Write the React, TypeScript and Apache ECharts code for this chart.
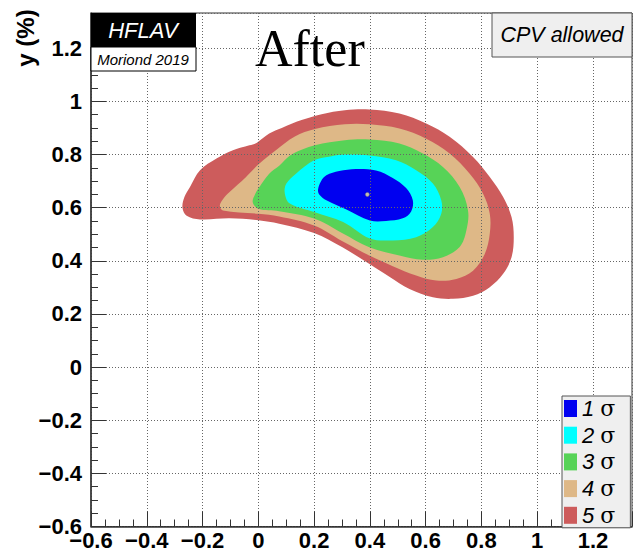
import { useEffect, useRef } from "react";
import * as echarts from "echarts";

// Confidence-level contours in the (x, y) charm mixing plane, in percent.
const contour5: number[][] = [
  [-0.272, 0.6], [-0.265, 0.64], [-0.245, 0.678], [-0.209, 0.741], [-0.15, 0.785],
  [-0.091, 0.816], [-0.032, 0.835], [-0.005, 0.845], [0.039, 0.879], [0.084, 0.9],
  [0.155, 0.93], [0.227, 0.952], [0.31, 0.967], [0.398, 0.97], [0.506, 0.955],
  [0.602, 0.917], [0.686, 0.867], [0.77, 0.791], [0.83, 0.716], [0.878, 0.64],
  [0.908, 0.565], [0.916, 0.489], [0.908, 0.414], [0.878, 0.351], [0.83, 0.301],
  [0.77, 0.269], [0.698, 0.257], [0.626, 0.263], [0.542, 0.294], [0.47, 0.34],
  [0.4, 0.387], [0.3, 0.452], [0.2, 0.505], [0.075, 0.54], [0.0, 0.553],
  [-0.103, 0.56], [-0.209, 0.556], [-0.257, 0.57],
];
const contour4: number[][] = [
  [-0.138, 0.609], [-0.125, 0.635], [-0.103, 0.659], [-0.044, 0.716], [0.004, 0.766],
  [0.063, 0.816], [0.131, 0.868], [0.203, 0.896], [0.31, 0.914], [0.398, 0.914],
  [0.506, 0.898], [0.602, 0.86], [0.686, 0.804], [0.758, 0.728], [0.806, 0.653],
  [0.83, 0.577], [0.83, 0.502], [0.812, 0.426], [0.77, 0.363], [0.71, 0.332],
  [0.638, 0.326], [0.566, 0.345], [0.482, 0.38], [0.4, 0.419], [0.3, 0.475],
  [0.2, 0.533], [0.075, 0.567], [0.0, 0.577], [-0.127, 0.59],
];
const contour3: number[][] = [
  [-0.02, 0.621], [-0.012, 0.65], [0.004, 0.678], [0.039, 0.728], [0.075, 0.758],
  [0.119, 0.8], [0.203, 0.835], [0.31, 0.854], [0.398, 0.857], [0.506, 0.842],
  [0.59, 0.804], [0.662, 0.753], [0.722, 0.678], [0.752, 0.59], [0.746, 0.514],
  [0.722, 0.452], [0.662, 0.414], [0.59, 0.404], [0.506, 0.42], [0.4, 0.45],
  [0.3, 0.505], [0.2, 0.559], [0.075, 0.587], [0.0, 0.596],
];
const contour2: number[][] = [
  [0.095, 0.654], [0.1, 0.69], [0.137, 0.73], [0.2, 0.779], [0.263, 0.794],
  [0.31, 0.8], [0.398, 0.797], [0.494, 0.779], [0.566, 0.741], [0.626, 0.691],
  [0.656, 0.628], [0.656, 0.577], [0.626, 0.527], [0.566, 0.489], [0.482, 0.477],
  [0.4, 0.484], [0.304, 0.546], [0.2, 0.584], [0.113, 0.616],
];
const contour1: number[][] = [
  [0.214, 0.667], [0.225, 0.7], [0.244, 0.722], [0.29, 0.738], [0.35, 0.746],
  [0.422, 0.74], [0.482, 0.712], [0.53, 0.674], [0.554, 0.628], [0.548, 0.586],
  [0.518, 0.56], [0.458, 0.55], [0.4, 0.552], [0.316, 0.593], [0.244, 0.628],
  [0.22, 0.648],
];
const bestFit: number[][] = [[0.391, 0.65]];

const sigmaNames = ["1 σ", "2 σ", "3 σ", "4 σ", "5 σ"];
const sigmaContours = [contour1, contour2, contour3, contour4, contour5];
const sigmaColors = ["#0000f0", "#00ffff", "#57d357", "#deb887", "#cd5c5c"];

const xRange = [-0.6, 1.34];
const yRange = [-0.6, 1.333];
const tickStep = 0.2;

const FONT = '"Liberation Sans", Arial, Helvetica, sans-serif';

function tickLabel(v: number): string {
  const k = Math.round(v / tickStep);
  if (Math.abs(v - k * tickStep) > 1e-6) return "";
  const t = +(k * tickStep).toFixed(1);
  if (t === 0) return "0";
  return t < 0 ? "\u2212" + String(-t) : String(t);
}

function contourSeries(i: number) {
  const pts = sigmaContours[i];
  return {
    type: "custom",
    name: sigmaNames[i],
    coordinateSystem: "cartesian2d",
    itemStyle: { color: sigmaColors[i] },
    data: [[pts[0][0], pts[0][1]]],
    z: 2,
    silent: true,
    renderItem: (_params: any, api: any) => ({
      type: "polygon",
      shape: { points: pts.map((p) => api.coord(p)), smooth: 0.35 },
      style: { fill: sigmaColors[i], stroke: null },
    }),
  };
}

function axisCommon(range: number[], labelMargin: number) {
  return {
    type: "value",
    min: range[0],
    max: range[1],
    interval: tickStep,
    z: 5,
    axisLine: { show: true, onZero: false, lineStyle: { color: "#333", width: 1.5 } },
    axisTick: { show: true, inside: true, length: 15, lineStyle: { color: "#333", width: 1 } },
    minorTick: { show: true, splitNumber: 4, length: 7, lineStyle: { color: "#333", width: 1 } },
    splitLine: { show: true, lineStyle: { color: "#666", width: 1, type: [1, 2] } },
    axisLabel: {
      formatter: tickLabel,
      margin: labelMargin,
      color: "#000",
      fontFamily: FONT,
      fontWeight: "bold",
      fontSize: 22,
    },
  };
}

export default function App() {
  const ref = useRef<HTMLDivElement>(null);

  useEffect(() => {
    if (!ref.current) return;
    const chart = echarts.init(ref.current, null, { renderer: "svg" });

    // draw outermost band first so inner bands sit on top
    const series: any[] = [4, 3, 2, 1, 0].map((i) => contourSeries(i));
    series.push({
      type: "scatter",
      name: "best fit",
      data: bestFit,
      symbolSize: 4,
      z: 3,
      silent: true,
      itemStyle: { color: "#f3eea0", borderColor: "#777", borderWidth: 0.6 },
    });

    chart.setOption({
      animation: false,
      textStyle: { fontFamily: FONT },
      grid: {
        left: 91,
        top: 13,
        width: 541,
        height: 513.5,
        show: true,
        borderColor: "#333",
        borderWidth: 1,
        backgroundColor: "transparent",
      },
      xAxis: axisCommon(xRange, 3),
      yAxis: axisCommon(yRange, 9),
      legend: {
        data: sigmaNames,
        orient: "vertical",
        left: 562,
        top: 396,
        z: 20,
        icon: "rect",
        itemWidth: 13,
        itemHeight: 17,
        itemGap: 4.7,
        itemTextGap: 9,
        padding: [1.5, 15, 1.5, 2],
        backgroundColor: "#efefef",
        borderColor: "#555",
        borderWidth: 1,
        borderRadius: 0,
        selectedMode: false,
        formatter: (name: string) => {
          const [n, s] = name.split(" ");
          return `{n|${n}} {s|${s}}`;
        },
        textStyle: {
          color: "#000",
          fontSize: 22,
          rich: {
            n: { fontFamily: FONT, fontStyle: "italic", fontSize: 22, color: "#000" },
            s: {
              fontFamily: '"DejaVu Serif", "Liberation Serif", serif',
              fontSize: 22,
              color: "#000",
            },
          },
        },
      },
      graphic: [
        {
          type: "text",
          x: 25,
          y: 38,
          z: 20,
          rotation: Math.PI / 2,
          style: {
            text: "y (%)",
            font: `bold 24px ${FONT}`,
            fill: "#000",
            align: "center",
            verticalAlign: "middle",
          },
        },
        {
          type: "rect",
          z: 20,
          shape: { x: 91, y: 13, width: 105, height: 34 },
          style: { fill: "#000" },
        },
        {
          type: "text",
          x: 143,
          y: 30,
          z: 21,
          style: {
            text: "HFLAV",
            font: `italic 22px ${FONT}`,
            fill: "#fff",
            align: "center",
            verticalAlign: "middle",
          },
        },
        {
          type: "rect",
          z: 20,
          shape: { x: 91, y: 47, width: 105, height: 24 },
          style: { fill: "#fff", stroke: "#000", lineWidth: 1 },
        },
        {
          type: "text",
          x: 143,
          y: 59,
          z: 21,
          style: {
            text: "Moriond 2019",
            font: `italic 15px ${FONT}`,
            fill: "#000",
            align: "center",
            verticalAlign: "middle",
          },
        },
        {
          type: "text",
          x: 255,
          y: 48,
          z: 21,
          style: {
            text: "After",
            font: '52px "Liberation Serif", "Times New Roman", serif',
            fill: "#000",
            align: "left",
            verticalAlign: "middle",
          },
        },
        {
          type: "rect",
          z: 20,
          shape: { x: 492, y: 13, width: 140, height: 44 },
          style: { fill: "#efefef", stroke: "#555", lineWidth: 1 },
        },
        {
          type: "text",
          x: 562,
          y: 35,
          z: 21,
          style: {
            text: "CPV allowed",
            font: `italic 21.5px ${FONT}`,
            fill: "#000",
            align: "center",
            verticalAlign: "middle",
          },
        },
      ],
      series,
    });

    return () => chart.dispose();
  }, []);

  return (
    <div
      ref={ref}
      style={{ position: "absolute", left: 0, top: 0, width: 636, height: 557, background: "#fff" }}
    />
  );
}
